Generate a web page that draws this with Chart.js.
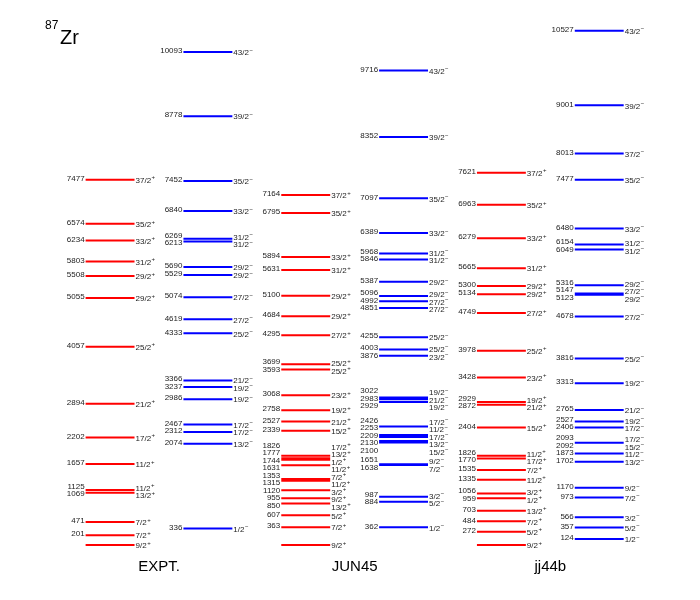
<!DOCTYPE html>
<html>
<head>
<meta charset="utf-8">
<script src="https://cdn.jsdelivr.net/npm/chart.js@4.4.1/dist/chart.umd.min.js"></script>
<style>
  html, body { margin: 0; padding: 0; background: #fff; }
</style>
</head>
<body>
<canvas id="levels" width="700" height="600"></canvas>
<script>
// 87Zr level scheme: experiment vs. two shell-model interactions
const groupNames = ['EXPT.', 'JUN45', 'jj44b'];

// energies in keV, spins as 2J, parity per column
const exptPosE = [0, 201, 471, 1069, 1125, 1657, 2202, 2894, 4057, 5055, 5508, 5803, 6234, 6574, 7477];
const exptPosJ = ['9/2', '7/2', '7/2', '13/2', '11/2', '11/2', '17/2', '21/2', '25/2', '29/2', '29/2', '31/2', '33/2', '35/2', '37/2'];

const exptNegE = [336, 2074, 2312, 2467, 2986, 3237, 3366, 4333, 4619, 5074, 5529, 5690, 6213, 6269, 6840, 7452, 8778, 10093];
const exptNegJ = ['1/2', '13/2', '17/2', '17/2', '19/2', '19/2', '21/2', '25/2', '27/2', '27/2', '29/2', '29/2', '31/2', '31/2', '33/2', '35/2', '39/2', '43/2'];

const jun45PosE = [0, 363, 607, 850, 955, 1120, 1315, 1353, 1631, 1744, 1777, 1826, 2339, 2527, 2758, 3068, 3593, 3699, 4295, 4684, 5100, 5631, 5894, 6795, 7164];
const jun45PosJ = ['9/2', '7/2', '5/2', '13/2', '9/2', '3/2', '11/2', '7/2', '11/2', '1/2', '13/2', '17/2', '15/2', '21/2', '19/2', '23/2', '25/2', '25/2', '27/2', '29/2', '29/2', '31/2', '33/2', '35/2', '37/2'];

const jun45NegE = [362, 884, 987, 1638, 1651, 2100, 2130, 2209, 2253, 2426, 2929, 2983, 3022, 3876, 4003, 4255, 4851, 4992, 5096, 5387, 5846, 5968, 6389, 7097, 8352, 9716];
const jun45NegJ = ['1/2', '5/2', '3/2', '7/2', '9/2', '15/2', '13/2', '17/2', '11/2', '17/2', '19/2', '21/2', '19/2', '23/2', '25/2', '25/2', '27/2', '27/2', '29/2', '29/2', '31/2', '31/2', '33/2', '35/2', '39/2', '43/2'];

const jj44bPosE = [0, 272, 484, 703, 959, 1056, 1335, 1535, 1770, 1826, 2404, 2872, 2929, 3428, 3978, 4749, 5134, 5300, 5665, 6279, 6963, 7621];
const jj44bPosJ = ['9/2', '5/2', '7/2', '13/2', '1/2', '3/2', '11/2', '7/2', '17/2', '11/2', '15/2', '21/2', '19/2', '23/2', '25/2', '27/2', '29/2', '29/2', '31/2', '33/2', '35/2', '37/2'];

const jj44bNegE = [124, 357, 566, 973, 1170, 1702, 1873, 2092, 2093, 2406, 2527, 2765, 3313, 3816, 4678, 5123, 5147, 5316, 6049, 6154, 6480, 7477, 8013, 9001, 10527];
const jj44bNegJ = ['1/2', '5/2', '3/2', '7/2', '9/2', '13/2', '11/2', '15/2', '17/2', '17/2', '19/2', '21/2', '19/2', '25/2', '27/2', '29/2', '27/2', '29/2', '31/2', '31/2', '33/2', '35/2', '37/2', '39/2', '43/2'];

const columns = [
  { e: exptPosE, j: exptPosJ, parity: '+' },
  { e: exptNegE, j: exptNegJ, parity: '-' },
  { e: jun45PosE, j: jun45PosJ, parity: '+' },
  { e: jun45NegE, j: jun45NegJ, parity: '-' },
  { e: jj44bPosE, j: jj44bPosJ, parity: '+' },
  { e: jj44bNegE, j: jj44bNegJ, parity: '-' }
];

const RED = '#ff0000';
const BLUE = '#0000ff';
const HALF = 0.25; // half width of a level line, in column units
const FONT = '"Liberation Sans", Arial, sans-serif';

// one line dataset per column, segments broken by null points
const datasets = columns.map((col, c) => ({
  data: col.e.flatMap(E => [{ x: c - HALF, y: E }, { x: c + HALF, y: E }, { x: c, y: null }]),
  borderColor: col.parity === '+' ? RED : BLUE,
  borderWidth: 2,
  pointRadius: 0,
  spanGaps: false,
  tension: 0
}));

// push overlapping labels apart, keeping each cluster centred on its lines
function spread(ys, gap) {
  const order = ys.map((y, i) => i).sort((a, b) => ys[a] - ys[b]);
  let groups = order.map(i => ({ idx: [i], sum: ys[i], top: ys[i] }));
  let changed = true;
  while (changed) {
    changed = false;
    for (let k = 0; k < groups.length - 1; k++) {
      const a = groups[k], b = groups[k + 1];
      if (a.top + a.idx.length * gap > b.top) {
        const idx = a.idx.concat(b.idx);
        const sum = a.sum + b.sum;
        groups.splice(k, 2, { idx, sum, top: sum / idx.length - (idx.length - 1) * gap / 2 });
        changed = true;
        break;
      }
    }
  }
  const out = new Array(ys.length);
  groups.forEach(g => g.idx.forEach((i, n) => { out[i] = g.top + n * gap; }));
  return out;
}

const labelPlugin = {
  id: 'levelLabels',
  afterDatasetsDraw(chart) {
    const { ctx, scales: { x, y } } = chart;
    ctx.save();
    ctx.fillStyle = '#222';
    ctx.textBaseline = 'middle';

    columns.forEach((col, c) => {
      const xl = x.getPixelForValue(c - HALF);
      const xr = x.getPixelForValue(c + HALF);
      const ys = col.e.map(E => y.getPixelForValue(E));

      // energies on the left (ground state unlabelled)
      const shown = col.e.map((E, i) => i).filter(i => col.e[i] !== 0);
      const ly = spread(shown.map(i => ys[i]), 7.5);
      ctx.font = '8px ' + FONT;
      ctx.textAlign = 'right';
      shown.forEach((i, n) => ctx.fillText(String(col.e[i]), xl - 1, ly[n] - 1));

      // spins on the right
      const ry = spread(ys, 7.5);
      col.j.forEach((s, i) => {
        ctx.font = '8px ' + FONT;
        ctx.textAlign = 'left';
        ctx.fillText(s, xr + 1, ry[i] + 1);
        const w = ctx.measureText(s).width;
        ctx.font = '6px ' + FONT;
        ctx.fillText(col.parity === '+' ? '+' : '\u2212', xr + 1.5 + w, ry[i] - 2);
      });
    });

    // group names under each red/blue pair
    ctx.font = '15px ' + FONT;
    ctx.textAlign = 'center';
    ctx.fillStyle = '#000';
    groupNames.forEach((name, g) => {
      ctx.fillText(name, x.getPixelForValue(2 * g + 0.5), 567);
    });

    // nucleus label
    ctx.textAlign = 'left';
    ctx.textBaseline = 'alphabetic';
    ctx.font = '12px ' + FONT;
    ctx.fillText('87', 45, 29);
    ctx.font = '20px ' + FONT;
    ctx.fillText('Zr', 60, 44);
    ctx.restore();
  }
};

new Chart(document.getElementById('levels'), {
  type: 'line',
  data: { datasets },
  options: {
    responsive: false,
    animation: false,
    layout: { padding: 0 },
    plugins: { legend: { display: false }, tooltip: { enabled: false } },
    scales: {
      x: { type: 'linear', display: false, min: -1.125, max: 6.03 },
      y: { type: 'linear', display: false, min: -1126, max: 11157 }
    }
  },
  plugins: [labelPlugin]
});
</script>
</body>
</html>
